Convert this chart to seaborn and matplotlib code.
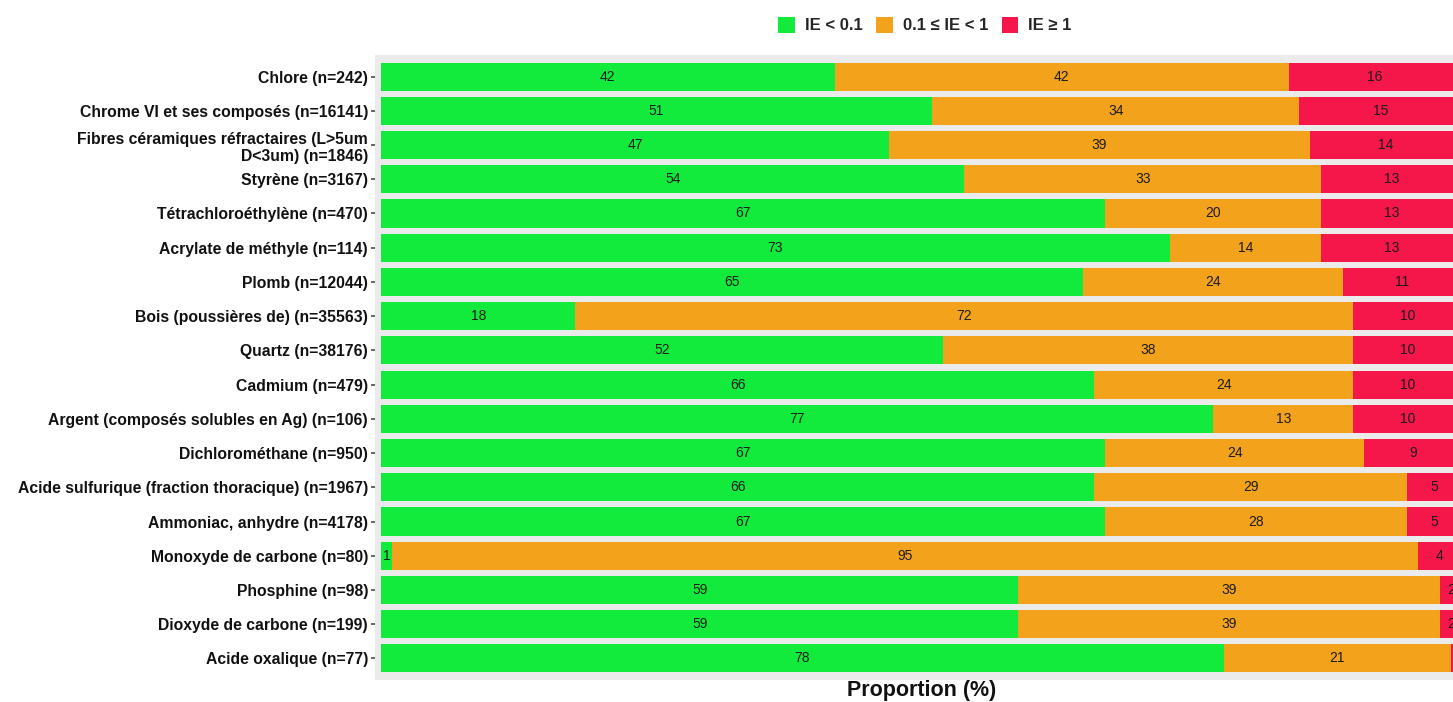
import numpy as np
import pandas as pd
import matplotlib
matplotlib.use("Agg")
import matplotlib.pyplot as plt
from matplotlib.patches import Patch
import seaborn as sns

# Data
substances = [
    "Chlore (n=242)",
    "Chrome VI et ses composés (n=16141)",
    "Fibres céramiques réfractaires (L>5um\nD<3um) (n=1846)",
    "Styrène (n=3167)",
    "Tétrachloroéthylène (n=470)",
    "Acrylate de méthyle (n=114)",
    "Plomb (n=12044)",
    "Bois (poussières de) (n=35563)",
    "Quartz (n=38176)",
    "Cadmium (n=479)",
    "Argent (composés solubles en Ag) (n=106)",
    "Dichlorométhane (n=950)",
    "Acide sulfurique (fraction thoracique) (n=1967)",
    "Ammoniac, anhydre (n=4178)",
    "Monoxyde de carbone (n=80)",
    "Phosphine (n=98)",
    "Dioxyde de carbone (n=199)",
    "Acide oxalique (n=77)",
]
ie_low = [42, 51, 47, 54, 67, 73, 65, 18, 52, 66, 77, 67, 66, 67, 1, 59, 59, 78]
ie_mid = [42, 34, 39, 33, 20, 14, 24, 72, 38, 24, 13, 24, 29, 28, 95, 39, 39, 21]
ie_high = [16, 15, 14, 13, 13, 13, 11, 10, 10, 10, 10, 9, 5, 5, 4, 2, 2, 1]
legend_labels = ["IE < 0.1", "0.1 \u2264 IE < 1", "IE \u2265 1"]

colors = ["#12EB3C", "#F3A31B", "#F5164A"]

df = pd.DataFrame({"substance": substances, "low": ie_low, "mid": ie_mid, "high": ie_high})
df["cum_mid"] = df["low"] + df["mid"]
df["cum_high"] = df["cum_mid"] + df["high"]

sns.set_theme(style="darkgrid")
plt.rcParams["font.family"] = ["Liberation Sans", "DejaVu Sans"]

fig = plt.figure(figsize=(14.53, 7.02), dpi=100)
ax = fig.add_axes([375 / 1453, 1 - 680 / 702, 1093 / 1453, 625 / 702])
ax.set_facecolor("#EBEBEB")

# stacked bars drawn back to front
for col, c in zip(["cum_high", "cum_mid", "low"], colors[::-1]):
    sns.barplot(data=df, x=col, y="substance", orient="h", color=c,
                width=0.82, ax=ax, saturation=1, linewidth=0)

# segment labels
for i, row in df.iterrows():
    starts = [0, row["low"], row["cum_mid"]]
    vals = [row["low"], row["mid"], row["high"]]
    for s, v in zip(starts, vals):
        ax.text(s + v / 2, i, f"{v}", ha="center", va="center",
                fontsize=10, color="#1c1c1c")

ax.set_xlim(-0.55, 100.6)
ax.set_ylim(len(df) - 0.37, -0.63)
ax.grid(False)
ax.set_xticks([])
ax.set_ylabel("")
ax.set_xlabel("Proportion (%)", fontsize=15.5, fontweight="bold", labelpad=0,
              color="#111111")
ax.tick_params(axis="y", length=3, color="#555555", pad=2, left=True)
for lbl in ax.get_yticklabels():
    lbl.set_fontweight("bold")
    lbl.set_fontsize(11.3)
    lbl.set_color("#111111")
for sp in ax.spines.values():
    sp.set_visible(False)

handles = [Patch(facecolor=c, edgecolor="none") for c in colors]
leg = fig.legend(handles, legend_labels, loc="center", bbox_to_anchor=(925 / 1453, 1 - 25 / 702),
                 ncol=3, frameon=False, handlelength=1.0, handleheight=1.1,
                 handletextpad=0.6, columnspacing=0.8,
                 prop={"weight": "bold", "size": 12})

fig.savefig("out.png", dpi=100)
